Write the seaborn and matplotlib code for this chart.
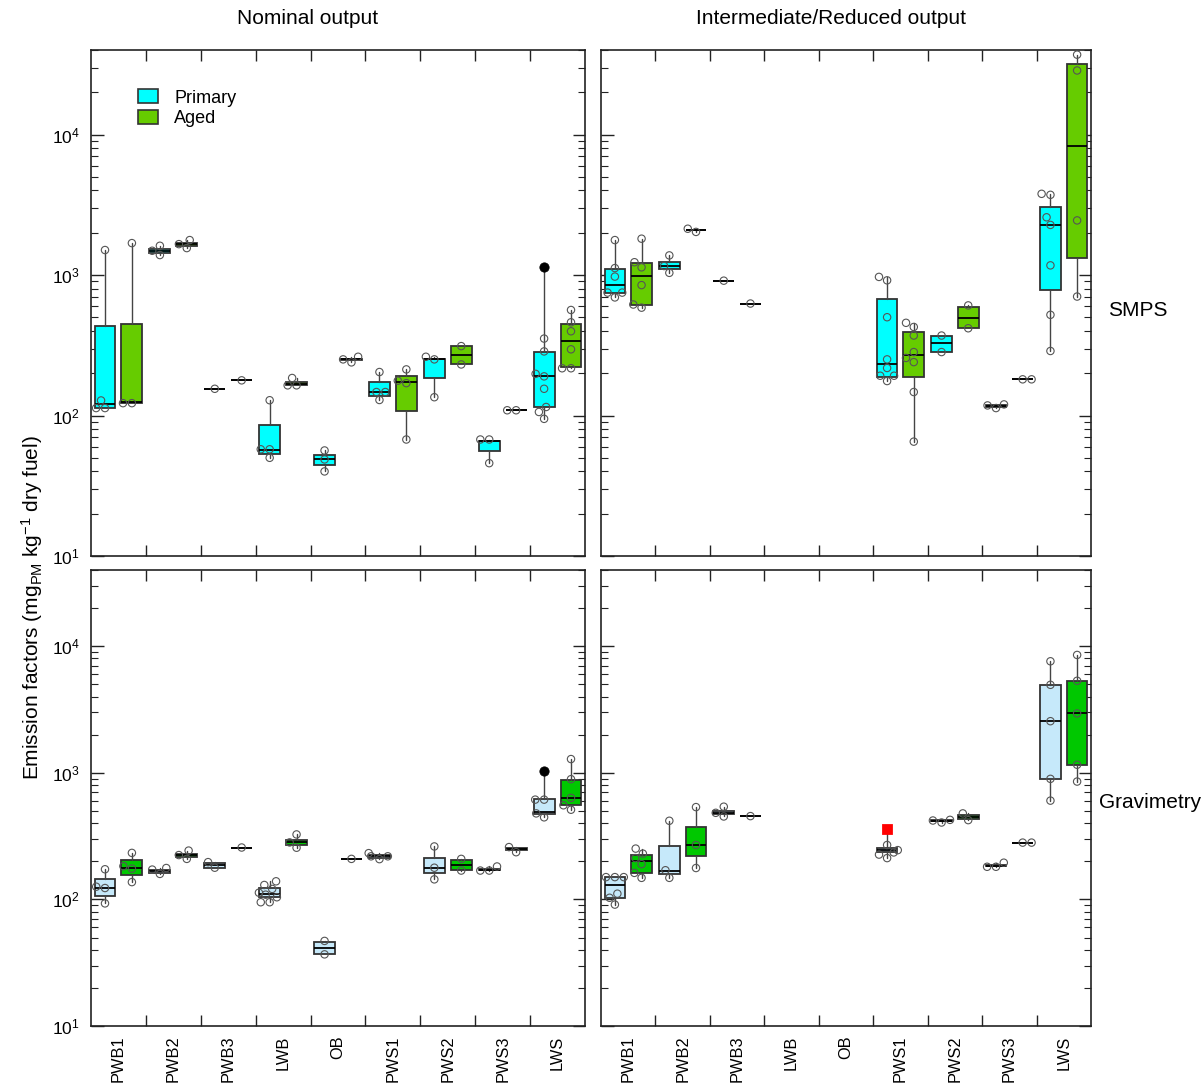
import matplotlib
matplotlib.use("Agg")
import matplotlib.pyplot as plt
import numpy as np
import pandas as pd
import seaborn as sns
from matplotlib.patches import Patch
from matplotlib.ticker import LogLocator, LogFormatterMathtext, NullFormatter, FixedLocator

# ---------------- data ----------------
categories = ["PWB1", "PWB2", "PWB3", "LWB", "OB", "PWS1", "PWS2", "PWS3", "LWS"]
column_titles = ["Nominal output", "Intermediate/Reduced output"]
row_titles = ["SMPS", "Gravimetry"]
legend_labels = ["Primary", "Aged"]
y_label = "Emission factors (mg$_{\\mathregular{PM}}$ kg$^{\\mathregular{-1}}$ dry fuel)"

# individual measurements (open circles), one list per category
nom_smps_primary_pts = [[1507, 128, 113, 113], [1616, 1489, 1388], [155], [128.5, 57.5, 57.5, 50],
                        [56.4, 48.7, 40.0], [204, 147, 147, 129], [262, 251, 135], [67.5, 67.5, 45.8],
                        [353, 286, 198, 190, 155, 115, 106, 94.7]]
nom_smps_aged_pts = [[1688, 122.5, 122.5], [1774, 1660, 1556], [178], [185, 164, 164], [262, 251, 239],
                     [213, 177, 170, 67.5], [312, 231], [109, 109], [564, 461, 398, 296, 217, 217]]
red_smps_primary_pts = [[1774, 1121, 975, 750, 750, 693], [1380, 1160, 1037], [912], [], [],
                        [970, 917, 501, 251, 218, 192, 192, 176], [371, 283], [118, 113, 120],
                        [3787, 3725, 2577, 2274, 1172, 521, 288]]
red_smps_aged_pts = [[1815, 1234, 1135, 848, 617, 586], [2137, 2028], [627], [], [],
                     [457, 427, 371, 283, 257, 240, 147, 65.2], [608, 418], [181, 181],
                     [37060, 28600, 2449, 703]]
nom_grav_primary_pts = [[173, 126, 123, 93], [177, 172, 159], [197, 178],
                        [139, 130, 121, 113, 109, 104, 95, 95], [47, 36.8], [232, 219, 219, 208],
                        [262, 178, 144], [169, 169, 182], [614, 614, 478, 445]]
nom_grav_aged_pts = [[233, 183, 175, 137], [243, 224, 209], [257], [326, 282, 256], [209], [],
                     [209, 169], [259, 236], [1284, 891, 634, 554, 511]]
red_grav_primary_pts = [[150, 150, 150, 111, 103, 91], [418, 170, 148], [540, 483, 452], [], [],
                        [269, 245, 235, 226, 212], [420, 405, 425], [181, 181, 195],
                        [7603, 4955, 2557, 896, 603]]
red_grav_aged_pts = [[252, 230, 212, 190, 162, 148], [536, 269, 177], [455], [], [], [],
                     [478, 423], [281, 281], [8531, 5333, 2944, 1158, 853]]

# box statistics: (whisker low, Q1, median, Q3, whisker high)
nom_smps_primary_box = [(113, 114, 120.5, 434, 1507), (1388, 1442, 1489, 1531, 1616), (155, 155, 155, 155, 155),
                        (50, 53.3, 56.4, 85.3, 128.5), (40, 44.1, 48.7, 52, 56.4), (129, 138, 147, 172, 204),
                        (135, 185, 251, 251, 262), (45.8, 55.5, 65.8, 65.8, 67.5), (94.7, 115, 190, 284, 1140)]
nom_smps_aged_box = [(122, 122, 124, 449, 1688), (1556, 1617, 1660, 1698, 1774), (178, 178, 178, 178, 178),
                     (164, 164, 169, 173, 185), (239, 249, 251, 253, 262), (67.5, 107, 174, 192, 213),
                     (231, 231, 269, 312, 312), (109, 109, 109, 109, 109), (217, 221, 342, 449, 564)]
red_smps_primary_box = [(693, 741, 853, 1109, 1774), (1037, 1097, 1160, 1247, 1380), (912, 912, 912, 912, 912),
                        None, None, (176, 189, 233, 670, 970), (283, 283, 326, 366, 371),
                        (113, 115, 116, 118, 120), (288, 783, 2287, 3054, 3787)]
red_smps_aged_box = [(586, 617, 986, 1213, 1815), (2028, 2080, 2089, 2095, 2137), (627, 627, 627, 627, 627),
                     None, None, (65.2, 188, 269, 393, 457), (418, 418, 498, 594, 608),
                     (181, 181, 181, 181, 181), (703, 1327, 8357, 32040, 37060)]
nom_grav_primary_box = [(93, 106, 123, 146, 173), (159, 163, 167, 170, 177), (178, 178, 186, 193, 197),
                        (95, 104, 111, 122, 139), (36.8, 37.3, 41.6, 46.5, 47), (208, 213, 219, 224, 232),
                        (144, 161, 178, 214, 262), (169, 170, 172, 173, 182), (445, 475, 490, 622, 1025)]
nom_grav_aged_box = [(137, 156, 177, 203, 233), (209, 217, 224, 229, 243), (257, 257, 257, 257, 257),
                     (256, 267, 282, 294, 326), (209, 209, 209, 209, 209), None,
                     (169, 170, 187, 206, 209), (236, 245, 249, 253, 259), (511, 554, 634, 874, 1284)]
red_grav_primary_box = [(91, 103, 129, 150, 150), (148, 158, 167, 262, 418), (452, 469, 483, 501, 540),
                        None, None, (212, 235, 245, 256, 363), (405, 413, 418, 421, 425),
                        (181, 182, 184, 186, 195), (603, 896, 2557, 4955, 7603)]
red_grav_aged_box = [(148, 162, 201, 226, 252), (177, 219, 269, 374, 536), (455, 455, 455, 455, 455),
                     None, None, None, (423, 431, 447, 463, 478), (281, 281, 281, 281, 281),
                     (853, 1158, 2944, 5333, 8531)]

# highlighted single measurements
filled_nom_smps_primary = {"LWS": 1140}
filled_nom_grav_primary = {"LWS": 1025}
flagged_red_grav_primary = {"PWS1": 363}

smps_colors = ["#00FFFF", "#66CC00"]
grav_colors = ["#C6E9FA", "#00C800"]

# ---------------- style ----------------
sns.set_theme(style="white")
plt.rcParams["font.family"] = ["Liberation Sans", "DejaVu Sans"]
plt.rcParams["mathtext.default"] = "regular"
plt.rcParams["axes.edgecolor"] = "#222222"
plt.rcParams["axes.linewidth"] = 1.2
plt.rcParams["text.color"] = "black"
plt.rcParams["xtick.color"] = "black"
plt.rcParams["ytick.color"] = "black"

W, H = 1204, 1085
fig = plt.figure(figsize=(W / 100, H / 100), dpi=100)
fig.patch.set_facecolor("white")


def frac_rect(x0, y0, x1, y1):
    return [x0 / W, 1 - y1 / H, (x1 - x0) / W, (y1 - y0) / H]


ax_tl = fig.add_axes(frac_rect(91, 50, 585, 556))
ax_tr = fig.add_axes(frac_rect(601, 50, 1091, 556))
ax_bl = fig.add_axes(frac_rect(91, 570, 585, 1026))
ax_br = fig.add_axes(frac_rect(601, 570, 1091, 1026))

box_offset = 0.245
box_width = 0.38
edge = "#333333"


def draw_panel(ax, prim_pts, prim_box, aged_pts, aged_box, colors, filled=None, flagged=None):
    ax.set_yscale("log")
    ax.set_xlim(-0.5, len(categories) - 0.5)
    ax.set_ylim(10, 4e4)
    for k, (boxes, col) in enumerate(((prim_box, colors[0]), (aged_box, colors[1]))):
        off = -box_offset if k == 0 else box_offset
        stats, pos = [], []
        for i, b in enumerate(boxes):
            if b is None:
                continue
            lo, q1, med, q3, hi = b
            stats.append(dict(whislo=lo, q1=q1, med=med, q3=q3, whishi=hi, fliers=[]))
            pos.append(i + off)
        ax.bxp(stats, positions=pos, widths=box_width, patch_artist=True, showcaps=False,
               showfliers=False, manage_ticks=False,
               boxprops=dict(facecolor=col, edgecolor=edge, linewidth=1.3),
               medianprops=dict(color="black", linewidth=1.3),
               whiskerprops=dict(color="#444444", linewidth=1.0))
    rows = []
    for k, pts_list in enumerate((prim_pts, aged_pts)):
        off = -box_offset if k == 0 else box_offset
        for i, pts in enumerate(pts_list):
            for v in pts:
                rows.append({"x": i + off, "v": v})
    df = pd.DataFrame(rows)
    sns.swarmplot(data=df, x="x", y="v", native_scale=True, orient="x", ax=ax,
                  color="none", edgecolor="#555555", linewidth=0.8, size=5.3, zorder=3)
    if filled:
        for cat, v in filled.items():
            sns.scatterplot(x=[categories.index(cat) - box_offset], y=[v], ax=ax, color="black",
                            marker="o", s=45, edgecolor="black", zorder=4, legend=False)
    if flagged:
        for cat, v in flagged.items():
            sns.scatterplot(x=[categories.index(cat) - box_offset], y=[v], ax=ax, color="#FF0000",
                            marker="s", s=50, edgecolor="#FF0000", zorder=4, legend=False)
    ax.set_xlabel("")
    ax.set_ylabel("")
    ax.set_xlim(-0.5, len(categories) - 0.5)
    ax.set_ylim(10, 4e4)
    # ticks
    ax.xaxis.set_major_locator(FixedLocator(np.arange(len(categories))))
    ax.xaxis.set_minor_locator(FixedLocator(np.arange(len(categories) - 1) + 0.5))
    ax.set_xticklabels(categories, rotation=90, fontsize=11.8)
    ax.tick_params(axis="x", which="major", length=0, pad=7, colors="black")
    ax.tick_params(axis="x", which="minor", direction="in", top=True, bottom=True,
                   length=8, width=1.0, color="#222222")
    ax.yaxis.set_major_locator(LogLocator(base=10, numticks=10))
    ax.yaxis.set_minor_locator(LogLocator(base=10, subs=np.arange(2, 10), numticks=20))
    ax.yaxis.set_major_formatter(LogFormatterMathtext())
    ax.yaxis.set_minor_formatter(NullFormatter())
    ax.tick_params(axis="y", which="both", direction="in", left=True, right=True, color="#222222",
                   labelcolor="black")
    ax.tick_params(axis="y", which="major", length=9, width=1.0, labelsize=12.5, pad=8)
    ax.tick_params(axis="y", which="minor", length=5, width=0.8)
    for sp in ax.spines.values():
        sp.set_visible(True)
        sp.set_color("#222222")
        sp.set_linewidth(1.2)


draw_panel(ax_tl, nom_smps_primary_pts, nom_smps_primary_box, nom_smps_aged_pts, nom_smps_aged_box,
           smps_colors, filled=filled_nom_smps_primary)
draw_panel(ax_tr, red_smps_primary_pts, red_smps_primary_box, red_smps_aged_pts, red_smps_aged_box,
           smps_colors)
draw_panel(ax_bl, nom_grav_primary_pts, nom_grav_primary_box, nom_grav_aged_pts, nom_grav_aged_box,
           grav_colors, filled=filled_nom_grav_primary)
draw_panel(ax_br, red_grav_primary_pts, red_grav_primary_box, red_grav_aged_pts, red_grav_aged_box,
           grav_colors, flagged=flagged_red_grav_primary)

for ax in (ax_tl, ax_tr):
    ax.tick_params(axis="x", which="major", labelbottom=False)
for ax in (ax_tr, ax_br):
    ax.tick_params(axis="y", which="major", labelleft=False)

handles = [Patch(facecolor=c, edgecolor=edge, linewidth=1.2, label=l)
           for c, l in zip(smps_colors, legend_labels)]
ax_tl.legend(handles=handles, loc="upper left", bbox_to_anchor=(0.095, 0.922), frameon=False,
             fontsize=13, handlelength=1.1, handleheight=0.8, handletextpad=0.9,
             labelspacing=0.2, borderpad=0, borderaxespad=0)

fig.text(308 / W, 1 - 18 / H, column_titles[0], ha="center", va="center", fontsize=15)
fig.text(831 / W, 1 - 18 / H, column_titles[1], ha="center", va="center", fontsize=15)
fig.text(1108 / W, 1 - 310 / H, row_titles[0], ha="left", va="center", fontsize=15)
fig.text(1099 / W, 1 - 803 / H, row_titles[1], ha="left", va="center", fontsize=15)
fig.text(32 / W, 1 - 608 / H, y_label, ha="center", va="center", rotation=90, fontsize=15)

fig.savefig("out.png", dpi=100, facecolor="white")
